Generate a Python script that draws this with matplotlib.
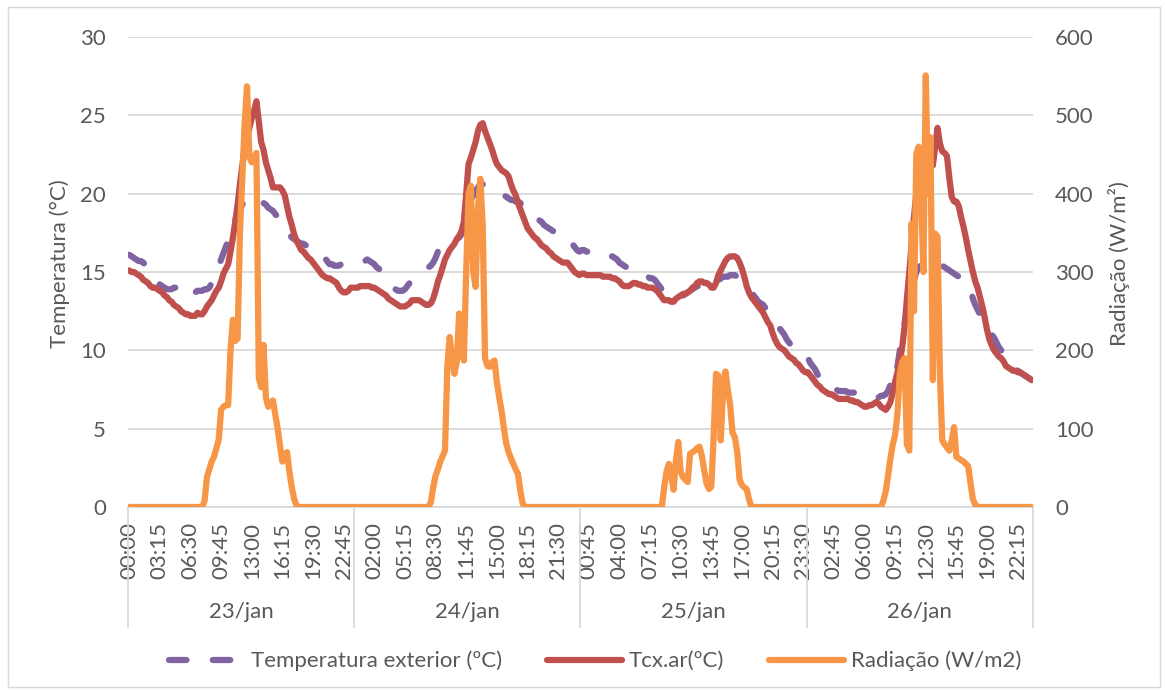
import numpy as np
import matplotlib.pyplot as plt
from matplotlib.lines import Line2D
from matplotlib.patches import Rectangle

plt.rcParams['font.family'] = ['Lato', 'DejaVu Sans']

days = ['23/jan', '24/jan', '25/jan', '26/jan']
time_labels = ['00:00', '03:15', '06:30', '09:45', '13:00', '16:15', '19:30', '22:45',
               '02:00', '05:15', '08:30', '11:45', '15:00', '18:15', '21:30',
               '00:45', '04:00', '07:15', '10:30', '13:45', '17:00', '20:15', '23:30',
               '02:45', '06:00', '09:15', '12:30', '15:45', '19:00', '22:15']

# 15 min readings, 96 per day (rows of 3 hours)
t_ext_23 = [16.1, 16.0, 15.9, 15.8, 15.7, 15.7, 15.6, 15.4, 15.2, 15.0, 14.8, 14.6,
            14.4, 14.2, 14.1, 14.0, 13.9, 13.9, 13.9, 14.0, 14.0, 13.8, 13.5, 13.5,
            13.5, 13.6, 13.6, 13.7, 13.7, 13.8, 13.8, 13.8, 13.9, 13.9, 14.0, 14.3,
            14.6, 15.0, 15.4, 15.8, 16.2, 16.6, 17.0, 17.5, 17.9, 18.3, 18.7, 19.0,
            19.3, 19.6, 19.7, 19.7, 19.8, 19.8, 19.7, 19.6, 19.5, 19.4, 19.3, 19.1,
            19.0, 18.9, 18.7, 18.5, 18.3, 18.0, 17.8, 17.6, 17.4, 17.2, 17.1, 17.0,
            16.9, 16.8, 16.8, 16.7, 16.7, 16.6, 16.5, 16.5, 16.4, 16.2, 16.0, 15.9,
            15.7, 15.5, 15.5, 15.4, 15.4, 15.4, 15.5, 15.5, 15.5, 15.5, 15.5, 15.5]
t_ext_24 = [15.5, 15.5, 15.5, 15.6, 15.7, 15.8, 15.7, 15.6, 15.5, 15.3, 15.2, 15.0,
            14.8, 14.6, 14.4, 14.2, 14.0, 13.9, 13.8, 13.8, 13.8, 13.9, 14.1, 14.3,
            14.5, 14.7, 14.8, 14.9, 15.0, 15.1, 15.2, 15.3, 15.4, 15.6, 15.9, 16.3,
            16.5, 16.7, 16.8, 16.9, 17.0, 17.0, 17.1, 17.1, 17.2, 17.4, 17.8, 18.4,
            19.0, 19.5, 19.9, 20.2, 20.4, 20.6, 20.6, 20.5, 20.4, 20.3, 20.2, 20.2,
            20.1, 20.1, 20.0, 19.9, 19.8, 19.7, 19.6, 19.6, 19.5, 19.5, 19.4, 19.2,
            19.0, 18.8, 18.6, 18.5, 18.4, 18.4, 18.3, 18.2, 18.0, 17.9, 17.8, 17.7,
            17.6, 17.5, 17.5, 17.4, 17.4, 17.3, 17.2, 17.0, 16.8, 16.6, 16.4, 16.3]
t_ext_25 = [16.4, 16.4, 16.3, 16.3, 16.3, 16.2, 16.2, 16.1, 16.1, 16.1, 16.1, 16.0,
            16.0, 16.0, 15.9, 15.8, 15.6, 15.5, 15.4, 15.3, 15.2, 15.1, 15.0, 14.9,
            14.8, 14.8, 14.7, 14.7, 14.7, 14.6, 14.6, 14.5, 14.3, 14.1, 13.9, 13.7,
            13.5, 13.4, 13.4, 13.4, 13.4, 13.4, 13.4, 13.5, 13.6, 13.7, 13.8, 13.9,
            14.0, 14.1, 14.1, 14.2, 14.2, 14.2, 14.1, 14.1, 14.1, 14.2, 14.4, 14.6,
            14.7, 14.7, 14.7, 14.8, 14.8, 14.8, 14.7, 14.6, 14.5, 14.3, 14.1, 13.9,
            13.7, 13.5, 13.3, 13.1, 13.0, 12.9, 12.7, 12.5, 12.3, 12.1, 11.9, 11.6,
            11.4, 11.2, 11.0, 10.7, 10.5, 10.3, 10.1, 9.9, 9.8, 9.7, 9.6, 9.6]
t_ext_26 = [9.5, 9.2, 9.0, 8.8, 8.5, 8.2, 8.0, 7.8, 7.7, 7.6, 7.6, 7.5,
            7.5, 7.4, 7.4, 7.4, 7.4, 7.3, 7.3, 7.3, 7.3, 7.3, 7.2, 7.2,
            7.2, 7.1, 7.1, 7.0, 7.0, 7.0, 7.0, 7.1, 7.1, 7.2, 7.4, 7.8,
            7.6, 8.2, 9.0, 10.0, 10.8, 11.7, 12.5, 13.2, 13.9, 14.5, 15.0, 15.3,
            15.4, 15.5, 15.6, 15.6, 15.7, 15.7, 15.7, 15.7, 15.6, 15.4, 15.3, 15.2,
            15.1, 15.0, 14.9, 14.8, 14.7, 14.6, 14.5, 14.4, 14.2, 13.8, 13.3, 12.9,
            12.6, 12.3, 12.0, 11.7, 11.4, 11.2, 11.0, 10.8, 10.5, 10.2, 10.0, 9.8,
            9.6, 9.3, 9.1, 8.9, 8.8, 8.7, 8.6, 8.5, 8.4, 8.3, 8.2, 8.1]

t_cx_23 = [15.1, 15.0, 15.0, 14.9, 14.8, 14.7, 14.5, 14.4, 14.3, 14.1, 14.0, 14.0,
           13.9, 13.8, 13.7, 13.5, 13.4, 13.2, 13.1, 12.9, 12.8, 12.7, 12.5, 12.4,
           12.3, 12.3, 12.2, 12.2, 12.2, 12.4, 12.3, 12.3, 12.5, 12.8, 13.0, 13.2,
           13.5, 13.8, 14.0, 14.4, 14.9, 15.2, 15.5, 16.3, 17.2, 18.2, 19.3, 20.6,
           21.8, 22.8, 23.5, 24.2, 24.8, 25.3, 25.9, 24.6, 23.3, 22.8, 22.0, 21.5,
           21.0, 20.4, 20.4, 20.4, 20.4, 20.2, 19.9, 19.2, 18.5, 18.0, 17.4, 17.0,
           16.7, 16.4, 16.3, 16.1, 15.9, 15.8, 15.6, 15.4, 15.2, 15.0, 14.8, 14.7,
           14.6, 14.6, 14.5, 14.4, 14.3, 14.0, 13.8, 13.7, 13.7, 13.8, 14.0, 14.0]
t_cx_24 = [14.0, 14.0, 14.1, 14.1, 14.1, 14.1, 14.1, 14.0, 14.0, 13.9, 13.8, 13.7,
           13.6, 13.5, 13.3, 13.2, 13.1, 13.0, 12.9, 12.8, 12.8, 12.8, 12.9, 13.0,
           13.2, 13.2, 13.2, 13.2, 13.1, 13.0, 12.9, 12.9, 13.0, 13.3, 13.8, 14.4,
           14.8, 15.3, 15.8, 16.1, 16.4, 16.6, 16.8, 17.1, 17.3, 17.6, 18.2, 20.0,
           21.9, 22.3, 22.8, 23.3, 24.0, 24.4, 24.5, 24.0, 23.6, 23.2, 22.8, 22.3,
           21.9, 21.7, 21.5, 21.4, 21.3, 21.1, 20.6, 20.2, 19.9, 19.4, 19.0, 18.6,
           18.2, 17.8, 17.6, 17.4, 17.2, 17.1, 16.9, 16.7, 16.6, 16.5, 16.3, 16.2,
           16.0, 15.9, 15.8, 15.7, 15.6, 15.6, 15.6, 15.4, 15.2, 15.0, 14.9, 14.8]
t_cx_25 = [14.9, 14.9, 14.8, 14.8, 14.8, 14.8, 14.8, 14.8, 14.8, 14.7, 14.7, 14.7,
           14.7, 14.6, 14.6, 14.5, 14.4, 14.2, 14.1, 14.1, 14.1, 14.2, 14.3, 14.3,
           14.2, 14.2, 14.1, 14.1, 14.0, 14.0, 14.0, 13.9, 13.8, 13.6, 13.4, 13.2,
           13.2, 13.2, 13.1, 13.1, 13.3, 13.4, 13.5, 13.6, 13.6, 13.7, 13.8, 14.0,
           14.1, 14.3, 14.4, 14.4, 14.3, 14.3, 14.2, 14.0, 14.0, 14.3, 14.8, 15.1,
           15.4, 15.7, 15.9, 16.0, 16.0, 16.0, 15.9, 15.6, 15.2, 14.7, 14.1, 13.7,
           13.4, 13.2, 13.0, 12.8, 12.6, 12.4, 12.1, 11.8, 11.6, 11.1, 10.7, 10.4,
           10.2, 10.1, 10.0, 9.8, 9.6, 9.5, 9.4, 9.2, 9.1, 8.9, 8.7, 8.6]
t_cx_26 = [8.6, 8.4, 8.2, 8.0, 7.8, 7.7, 7.5, 7.4, 7.3, 7.2, 7.2, 7.1,
           7.0, 6.9, 6.9, 6.9, 6.9, 6.9, 6.8, 6.8, 6.7, 6.7, 6.6, 6.5,
           6.4, 6.4, 6.5, 6.5, 6.6, 6.7, 6.6, 6.4, 6.3, 6.2, 6.4, 6.7,
           7.3, 8.0, 8.6, 9.3, 10.2, 11.5, 13.3, 15.0, 16.8, 18.5, 20.0, 21.3,
           22.0, 22.5, 22.8, 22.6, 22.2, 21.8, 23.0, 24.2, 23.2, 22.7, 22.6, 22.4,
           21.0, 19.8, 19.5, 19.5, 19.2, 18.5, 17.9, 17.2, 16.4, 15.7, 15.0, 14.4,
           14.0, 13.4, 12.8, 12.1, 11.3, 10.7, 10.3, 10.0, 9.8, 9.6, 9.5, 9.3,
           9.0, 8.9, 8.8, 8.7, 8.7, 8.6, 8.6, 8.5, 8.4, 8.3, 8.2, 8.1]

rad_23 = [0, 0, 0, 0, 0, 0, 0, 0, 0, 0, 0, 0,
          0, 0, 0, 0, 0, 0, 0, 0, 0, 0, 0, 0,
          0, 0, 0, 0, 0, 0, 0, 0, 8, 38, 48, 58,
          64, 75, 86, 124, 128, 130, 130, 200, 239, 212, 215, 350,
          420, 490, 537, 447, 440, 445, 452, 165, 153, 207, 140, 128,
          132, 136, 118, 100, 78, 58, 65, 70, 45, 25, 10, 2,
          0, 0, 0, 0, 0, 0, 0, 0, 0, 0, 0, 0,
          0, 0, 0, 0, 0, 0, 0, 0, 0, 0, 0, 0]
rad_24 = [0, 0, 0, 0, 0, 0, 0, 0, 0, 0, 0, 0,
          0, 0, 0, 0, 0, 0, 0, 0, 0, 0, 0, 0,
          0, 0, 0, 0, 0, 0, 0, 0, 6, 25, 40, 48,
          58, 65, 72, 180, 217, 190, 170, 185, 247, 210, 187, 300,
          400, 410, 300, 281, 380, 419, 360, 190, 180, 179, 185, 187,
          160, 140, 123, 100, 81, 70, 62, 55, 48, 42, 20, 4,
          0, 0, 0, 0, 0, 0, 0, 0, 0, 0, 0, 0,
          0, 0, 0, 0, 0, 0, 0, 0, 0, 0, 0, 0]
rad_25 = [0, 0, 0, 0, 0, 0, 0, 0, 0, 0, 0, 0,
          0, 0, 0, 0, 0, 0, 0, 0, 0, 0, 0, 0,
          0, 0, 0, 0, 0, 0, 0, 0, 0, 0, 0, 25,
          45, 55, 40, 22, 60, 83, 45, 38, 35, 32, 68, 70,
          72, 75, 77, 65, 47, 30, 23, 26, 90, 170, 168, 85,
          150, 173, 150, 130, 95, 89, 70, 35, 28, 25, 23, 10,
          0, 0, 0, 0, 0, 0, 0, 0, 0, 0, 0, 0,
          0, 0, 0, 0, 0, 0, 0, 0, 0, 0, 0, 0]
rad_26 = [0, 0, 0, 0, 0, 0, 0, 0, 0, 0, 0, 0,
          0, 0, 0, 0, 0, 0, 0, 0, 0, 0, 0, 0,
          0, 0, 0, 0, 0, 0, 0, 0, 8, 20, 40, 62,
          80, 92, 120, 170, 185, 190, 80, 72, 362, 250, 451, 460,
          400, 300, 551, 400, 472, 162, 349, 345, 170, 85, 80, 76,
          72, 85, 102, 64, 62, 60, 58, 55, 52, 30, 10, 3,
          0, 0, 0, 0, 0, 0, 0, 0, 0, 0, 0, 0,
          0, 0, 0, 0, 0, 0, 0, 0, 0, 0, 0, 0]

t_ext = t_ext_23 + t_ext_24 + t_ext_25 + t_ext_26
t_cx = t_cx_23 + t_cx_24 + t_cx_25 + t_cx_26
rad = rad_23 + rad_24 + rad_25 + rad_26

PURPLE, RED, ORANGE = '#8064A2', '#C0504D', '#F79646'
TXT, GRID = '#595959', '#D9D9D9'
FS = 16
LW = 4.5
DASH = (0, (2.8, 4.2))

W, H = 1165, 693
fig = plt.figure(figsize=(W / 100, H / 100), dpi=100)
ax = fig.add_axes([128 / W, 1 - 507 / H, 905 / W, 470 / H])
ax2 = ax.twinx()

x = np.arange(len(t_cx))
ax.plot(x, t_ext, color=PURPLE, lw=LW, linestyle=DASH,
        dash_capstyle='round', solid_joinstyle='round')
ax.plot(x, t_cx, color=RED, lw=LW, solid_capstyle='round', solid_joinstyle='round')
ax2.plot(x, rad, color=ORANGE, lw=LW, solid_capstyle='round', solid_joinstyle='round')

n = len(t_cx)
ax.set_xlim(-0.5, n - 0.5)
ax.set_ylim(0, 30)
ax2.set_ylim(0, 600)
ax.set_yticks(np.arange(0, 31, 5))
ax2.set_yticks(np.arange(0, 601, 100))
ax.yaxis.grid(True, color=GRID, lw=1.3)
ax.set_axisbelow(True)

for a in (ax, ax2):
    for s in a.spines.values():
        s.set_visible(False)
ax.spines['bottom'].set_visible(True)
ax.spines['bottom'].set_color(GRID)
ax.spines['bottom'].set_linewidth(1.3)

ax.set_xticks(np.arange(0, n, 13))
ax.set_xticklabels(time_labels, rotation=90)
ax.tick_params(axis='x', length=0, pad=11, labelsize=FS, labelcolor=TXT)
ax.tick_params(axis='y', length=0, pad=16, labelsize=FS, labelcolor=TXT)
ax2.tick_params(axis='y', length=0, pad=16, labelsize=FS, labelcolor=TXT)

ax.set_ylabel('Temperatura (°C)', fontsize=FS, color=TXT)
ax.yaxis.set_label_coords(-0.064, 0.517)
ax2.set_ylabel('Radiação (W/m²)', fontsize=FS, color=TXT, rotation=90)
ax2.yaxis.set_label_coords(1.083, 0.517)

# day groups under the time labels
trans = ax.get_xaxis_transform()
per_day = n // len(days)
for d in range(len(days) + 1):
    ax.plot([d * per_day - 0.5] * 2, [0, -0.255], transform=trans, color=GRID,
            lw=1.3, clip_on=False)
for d, name in enumerate(days):
    ax.text(d * per_day + per_day / 2 - 0.5, -0.223, name, transform=trans,
            ha='center', va='center', fontsize=FS, color=TXT)

handles = [
    Line2D([], [], color=PURPLE, lw=LW, linestyle=DASH, dash_capstyle='round'),
    Line2D([], [], color=RED, lw=LW, solid_capstyle='round'),
    Line2D([], [], color=ORANGE, lw=LW, solid_capstyle='round'),
]
fig.legend(handles, ['Temperatura exterior (ºC)', 'Tcx.ar(ºC)', 'Radiação (W/m2)'],
           loc='center', bbox_to_anchor=(0.511, 1 - 661 / H), ncol=3, frameon=False,
           fontsize=FS, labelcolor=TXT, handlelength=3.4, handletextpad=0.3,
           columnspacing=2.0)

fig.add_artist(Rectangle((8 / W, 6 / H), 1152 / W, 680 / H, transform=fig.transFigure,
                         fill=False, edgecolor=GRID, lw=1))

fig.savefig('out.png', dpi=100)
